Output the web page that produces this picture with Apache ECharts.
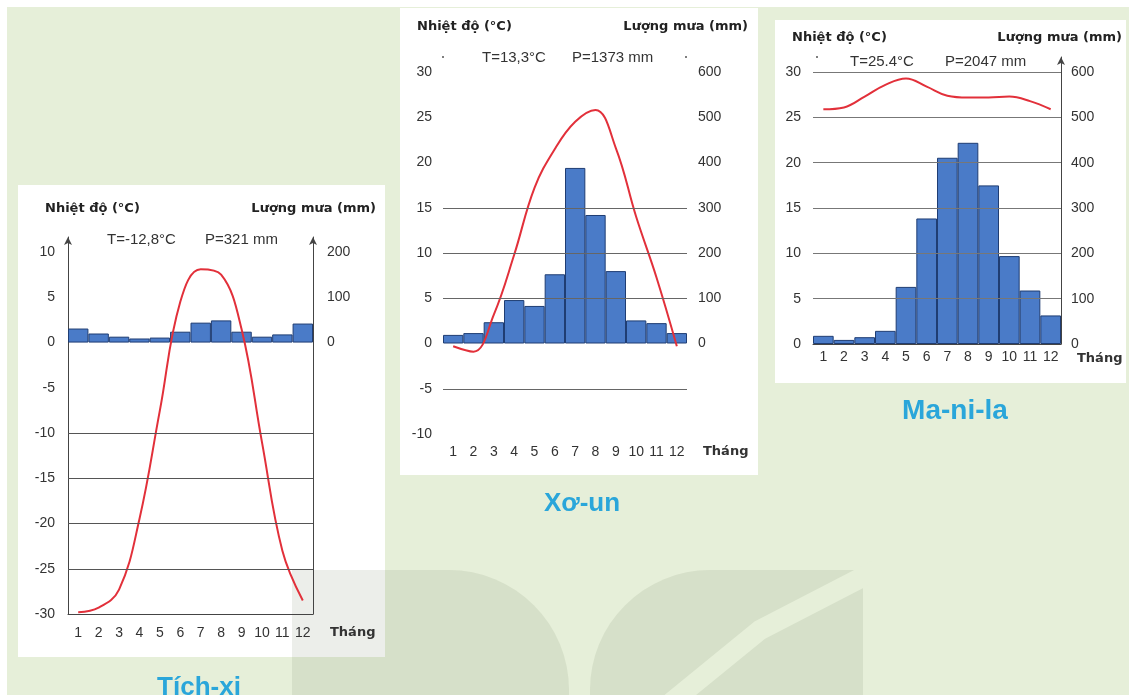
<!DOCTYPE html>
<html>
<head>
<meta charset="utf-8">
<script src="https://cdn.jsdelivr.net/npm/echarts@6/dist/echarts.min.js"></script>
<style>
html,body{margin:0;padding:0;background:#e6efd9}
#chart{width:1129px;height:695px}
</style>
</head>
<body>
<div id="chart"></div>
<script>
// thang 1..12
const months = ['1','2','3','4','5','6','7','8','9','10','11','12'];

// Tich-xi
const tichxiTemp = [-29.8, -29.3, -27.3, -19.5, -7.5, 4.5, 8.1, 7.5, 1.5, -11, -23, -28.5];
const tichxiRain = [31, 20, 13, 9, 11, 24, 44, 49, 24, 13, 18, 42];
const tichxiGrid = [-25, -20, -15, -10];

// Xo-un
const xounTemp = [-0.3, -0.9, 3.2, 9.8, 17.2, 21.5, 24.5, 25.8, 21.6, 14, 7.3, -0.3];
const xounRain = [19, 23, 47, 96, 83, 153, 388, 284, 160, 51, 45, 23];
const xounGrid = [-5, 5, 10, 15];

// Ma-ni-la
const manilaTemp = [25.9, 26.1, 27.3, 28.6, 29.3, 28.4, 27.4, 27.2, 27.2, 27.3, 26.8, 25.9];
const manilaRain = [18, 9, 15, 29, 126, 277, 411, 444, 350, 194, 118, 63];
const manilaGrid = [5, 10, 15, 20, 25, 30];

const FONT = '"Liberation Sans", Arial, sans-serif';
const HEAD = '"DejaVu Sans", sans-serif';
const labelStyle = {color: '#333', fontSize: 14, fontFamily: FONT};

function tempLabel(v) { return v % 5 === 0 ? v : ''; }
function rainLabel(maxV) {
    return function (v) { return (v >= 0 && v <= maxV && v % 100 === 0) ? v : ''; };
}

function xAxis(gridIndex, showLine, margin) {
    return {
        type: 'category', gridIndex: gridIndex, data: months,
        axisLine: {show: showLine, onZero: false, lineStyle: {color: '#444', width: 1}},
        axisTick: {show: false},
        axisLabel: Object.assign({margin: margin, interval: 0}, labelStyle)
    };
}

function yAxis(gridIndex, pos, min, max, interval, showLine, margin, fmt) {
    return {
        type: 'value', gridIndex: gridIndex, position: pos,
        min: min, max: max, interval: interval,
        axisLine: {show: showLine, symbol: ['none', 'arrow'], symbolSize: [6, 8],
            lineStyle: {color: '#444', width: 1}},
        axisTick: {show: false},
        splitLine: {show: false},
        axisLabel: Object.assign({margin: margin, formatter: fmt}, labelStyle)
    };
}

function gridLines(xi, yi, values, color) {
    return {
        type: 'line', xAxisIndex: xi, yAxisIndex: yi, data: [], z: 1, silent: true,
        markLine: {
            silent: true, symbol: 'none', label: {show: false},
            lineStyle: {color: color, width: 1, type: 'solid'},
            emphasis: {disabled: true},
            data: values.map(function (v) { return {yAxis: v}; })
        }
    };
}

function bars(xi, yi, data) {
    return {
        type: 'bar', xAxisIndex: xi, yAxisIndex: yi, data: data, z: 2,
        barCategoryGap: '0%',
        itemStyle: {color: '#4a7bc8', borderColor: '#1f3d73', borderWidth: 1}
    };
}

function tempLine(xi, yi, data) {
    return {
        type: 'line', xAxisIndex: xi, yAxisIndex: yi, data: data, z: 3,
        smooth: 0.4, symbol: 'none',
        lineStyle: {color: '#e2303a', width: 2}
    };
}

function txt(text, x, y, font, fill, align) {
    return {type: 'text', z: 10, style: {text: text, x: x, y: y, font: font, fill: fill,
        align: align || 'left', verticalAlign: 'middle'}};
}

function dot(x, y) {
    return {type: 'circle', z: 10, shape: {cx: x, cy: y, r: 1}, style: {fill: '#555'}};
}

const headFont = 'bold 13px ' + HEAD;
const statFont = '15px ' + FONT;
const monthFont = 'bold 13px ' + HEAD;
const titleFont = 'bold 26px ' + FONT;
const titleFont2 = 'bold 28px ' + FONT;

const option = {
    animation: false,
    backgroundColor: '#e6efd9',
    graphic: [
        {type: 'rect', z: -100, shape: {x: 0, y: 0, width: 1129, height: 7}, style: {fill: '#ffffff'}},
        {type: 'rect', z: -100, shape: {x: 0, y: 0, width: 7, height: 695}, style: {fill: '#ffffff'}},
        // khung trang
        {type: 'rect', z: -90, shape: {x: 18, y: 185, width: 367, height: 472}, style: {fill: '#ffffff'}},
        {type: 'rect', z: -90, shape: {x: 400, y: 8, width: 358, height: 467}, style: {fill: '#ffffff'}},
        {type: 'rect', z: -90, shape: {x: 775, y: 20, width: 351, height: 363}, style: {fill: '#ffffff'}},
        // logo mo phia sau
        {type: 'rect', z: -80, shape: {x: 292, y: 570, width: 277, height: 130, r: [0, 120, 0, 0]},
            style: {fill: 'rgba(110,120,95,0.13)'}},
        {type: 'rect', z: -80, shape: {x: 590, y: 570, width: 273, height: 130, r: [120, 0, 0, 0]},
            style: {fill: 'rgba(110,120,95,0.13)'}},
        {type: 'polyline', z: -79, shape: {points: [[668, 705], [760, 630], [880, 568]]},
            style: {stroke: '#e6efd9', lineWidth: 20, fill: null}},
        // Tich-xi
        txt('Nhiệt độ (°C)', 45, 209, headFont, '#222'),
        txt('Lượng mưa (mm)', 376, 209, headFont, '#222', 'right'),
        txt('T=-12,8°C', 107, 240, statFont, '#333'),
        txt('P=321 mm', 205, 240, statFont, '#333'),
        txt('Tháng', 330, 633, monthFont, '#333'),
        txt('Tích-xi', 199, 688, titleFont, '#2aa6da', 'center'),
        // Xo-un
        txt('Nhiệt độ (°C)', 417, 27, headFont, '#222'),
        txt('Lượng mưa (mm)', 748, 27, headFont, '#222', 'right'),
        txt('T=13,3°C', 482, 58, statFont, '#333'),
        txt('P=1373 mm', 572, 58, statFont, '#333'),
        txt('Tháng', 703, 452, monthFont, '#333'),
        txt('Xơ-un', 582, 504, titleFont, '#2aa6da', 'center'),
        dot(443, 57), dot(686, 57),
        // Ma-ni-la
        txt('Nhiệt độ (°C)', 792, 38, headFont, '#222'),
        txt('Lượng mưa (mm)', 1122, 38, headFont, '#222', 'right'),
        txt('T=25.4°C', 850, 62, statFont, '#333'),
        txt('P=2047 mm', 945, 62, statFont, '#333'),
        txt('Tháng', 1077, 359, monthFont, '#333'),
        txt('Ma-ni-la', 955, 411, titleFont2, '#2aa6da', 'center'),
        dot(817, 57)
    ],
    grid: [
        {left: 68, top: 237, width: 245, height: 377},
        {left: 443, top: 72, width: 244, height: 362},
        {left: 813, top: 57, width: 248, height: 287}
    ],
    xAxis: [
        xAxis(0, true, 12),
        xAxis(1, false, 11),
        xAxis(2, true, 6)
    ],
    yAxis: [
        yAxis(0, 'left', -30, 10 + 15 / 9, 5, true, 13, tempLabel),
        yAxis(0, 'right', -600, 200 + 300 / 9, 100, true, 14, rainLabel(200)),
        yAxis(1, 'left', -10, 30, 5, false, 11, tempLabel),
        yAxis(1, 'right', -200, 600, 100, false, 11, rainLabel(600)),
        yAxis(2, 'left', 0, 30 + 15 / 9, 5, false, 12, tempLabel),
        yAxis(2, 'right', 0, 600 + 300 / 9, 100, true, 10, rainLabel(600))
    ],
    series: [
        gridLines(0, 0, tichxiGrid, '#555'),
        bars(0, 1, tichxiRain),
        tempLine(0, 0, tichxiTemp),
        gridLines(1, 2, xounGrid, '#666'),
        bars(1, 3, xounRain),
        tempLine(1, 2, xounTemp),
        gridLines(2, 4, manilaGrid, '#777'),
        bars(2, 5, manilaRain),
        tempLine(2, 4, manilaTemp)
    ]
};

const myChart = echarts.init(document.getElementById('chart'));
myChart.setOption(option);
window.addEventListener('resize', function () {
    myChart.resize();
});
</script>
</body>
</html>
